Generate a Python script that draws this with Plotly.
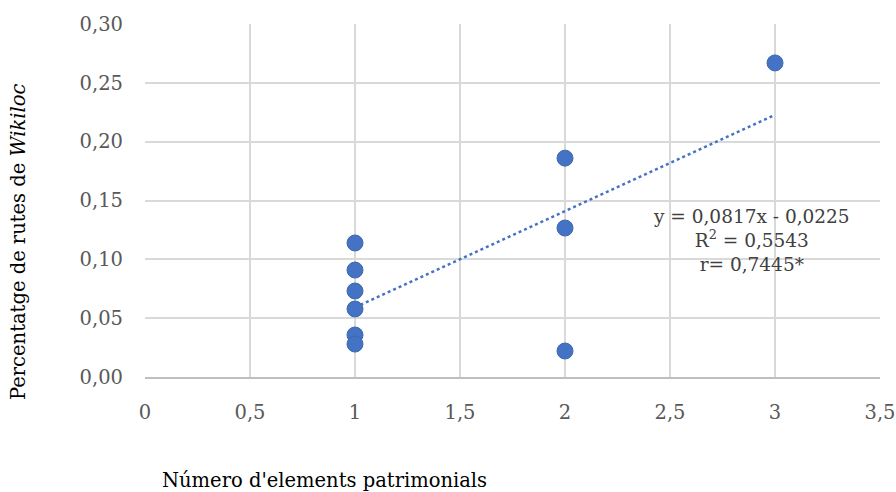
import numpy as np
import plotly.graph_objects as go

x_vals = [1, 1, 1, 1, 1, 1, 2, 2, 2, 3]
y_vals = [0.1139, 0.0909, 0.0731, 0.0578, 0.0357, 0.0280, 0.1860, 0.1266, 0.0221, 0.2669]
eq_text = ["y = 0,0817x - 0,0225", "R<sup>2</sup> = 0,5543", "r= 0,7445*"]

slope, intercept = np.polyfit(x_vals, y_vals, 1)
tx = np.linspace(min(x_vals), max(x_vals), 60)
ty = slope * tx + intercept

FONT = "DejaVu Serif"
BLUE = "#4472C4"
W, H = 896, 492
L, R, T, B = 145, 16, 24, 115
PW, PH = W - L - R, H - T - B

fig = go.Figure()
fig.add_trace(go.Scatter(x=tx, y=ty, mode="lines",
                         line=dict(color=BLUE, width=2.5, dash="dot"),
                         hoverinfo="skip", showlegend=False))
fig.add_trace(go.Scatter(x=x_vals, y=y_vals, mode="markers",
                         marker=dict(color=BLUE, size=16, line=dict(color="#3F6AA8", width=1)),
                         showlegend=False))

fig.add_annotation(x=2.89, y=0.1156, xref="x", yref="y", text="<br>".join(eq_text),
                   showarrow=False, align="center", xanchor="center", yanchor="middle",
                   font=dict(family=FONT, size=18.5, color="#404040"))

fig.add_annotation(x=(18 - L) / PW, y=((H - B) - 242) / PH,
                   xref="paper", yref="paper",
                   text="Percentatge de rutes de <i>Wikiloc</i>", textangle=-90,
                   showarrow=False, xanchor="center", yanchor="middle",
                   font=dict(family=FONT, size=19.5, color="#000000"))
fig.add_annotation(x=(160 - L) / PW, y=-(480 - (H - B)) / PH, xref="paper", yref="paper",
                   text="Número d'elements patrimonials", showarrow=False,
                   xanchor="left", yanchor="middle",
                   font=dict(family=FONT, size=19.5, color="#000000"))

fig.update_layout(
    width=W, height=H,
    margin=dict(l=L, r=R, t=T, b=B, autoexpand=False),
    paper_bgcolor="white", plot_bgcolor="white",
    separators=",.",
    font=dict(family=FONT, size=19, color="#595959"),
    xaxis=dict(range=[0, 3.5], dtick=0.5, tick0=0, showgrid=True, gridcolor="#D9D9D9", gridwidth=1.5,
               zeroline=False, showline=True, linecolor="#BFBFBF", linewidth=1.5, automargin=False,
               ticks="", ticklabelstandoff=17, tickfont=dict(size=19.5, color="#595959")),
    yaxis=dict(range=[0, 0.30], dtick=0.05, tick0=0, tickformat=".2f", showgrid=True,
               gridcolor="#D9D9D9", gridwidth=1.5, zeroline=False, showline=False, automargin=False,
               ticks="", ticklabelstandoff=21, tickfont=dict(size=19.5, color="#595959")),
)

fig.write_html("out.html", config={"displayModeBar": False},
               post_script="document.body.style.margin='0';")
